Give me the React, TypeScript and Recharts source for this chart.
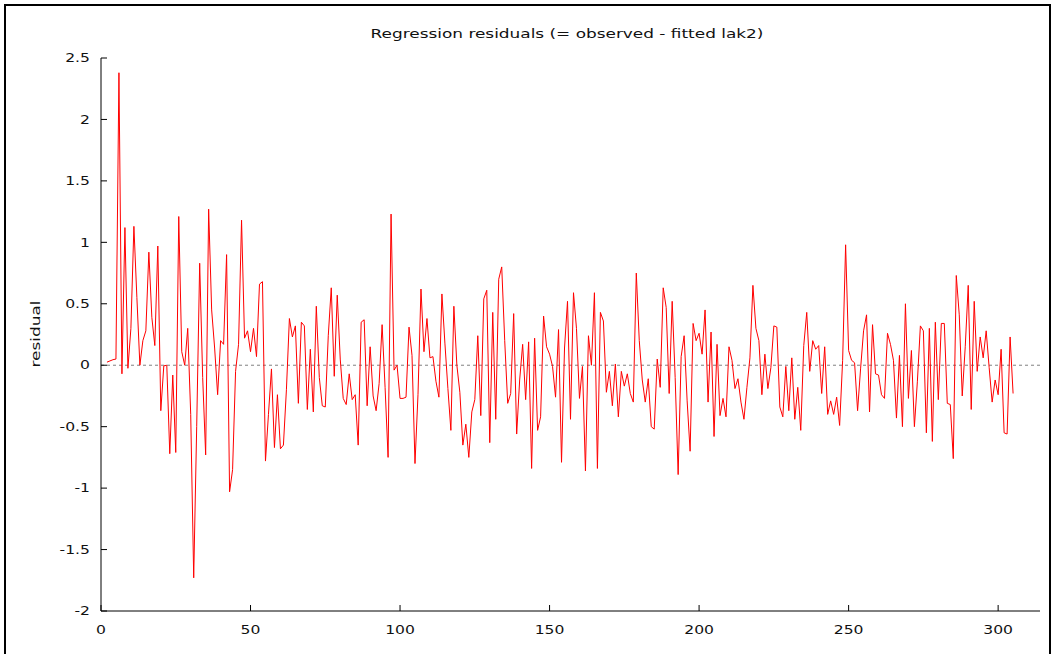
import { LineChart, Line, XAxis, YAxis, ReferenceLine } from 'recharts'

const TITLE = 'Regression residuals (= observed - fitted lak2)'
const Y_LABEL = 'residual'

// first observation that has a residual (lag 2 model)
const FIRST_OBS = 2

// residuals, obs 2..305
const RESIDUALS = [
  0.025, 0.035, 0.045, 0.05, 2.38, -0.07, 1.12, -0.025, 0.3, 1.13,
  0.55, 0.0, 0.2, 0.28, 0.92, 0.39, 0.16, 0.97, -0.37, -0.005,
  0.0, -0.72, -0.08, -0.71, 1.21, 0.11, 0.0, 0.3, -0.4, -1.73,
  -0.5, 0.83, -0.1, -0.73, 1.27, 0.45, 0.14, -0.24, 0.2, 0.17,
  0.9, -1.03, -0.85, -0.05, 0.17, 1.18, 0.22, 0.28, 0.11, 0.3,
  0.07, 0.66, 0.68, -0.78, -0.4, -0.03, -0.67, -0.24, -0.68, -0.65,
  -0.2, 0.38, 0.23, 0.32, -0.31, 0.35, 0.32, -0.36, 0.13, -0.38,
  0.48, -0.1, -0.33, -0.34, 0.24, 0.63, -0.09, 0.57, 0.05, -0.27,
  -0.32, -0.07, -0.28, -0.24, -0.65, 0.35, 0.37, -0.33, 0.15, -0.25,
  -0.37, -0.15, 0.33, -0.18, -0.75, 1.23, -0.04, 0.0, -0.27, -0.27,
  -0.26, 0.31, 0.08, -0.8, -0.24, 0.62, 0.11, 0.38, 0.06, 0.07,
  -0.13, -0.26, 0.58, 0.18, -0.19, -0.53, 0.48, 0.0, -0.22, -0.65,
  -0.48, -0.75, -0.38, -0.28, 0.24, -0.41, 0.54, 0.61, -0.63, 0.43,
  -0.44, 0.7, 0.8, 0.2, -0.31, -0.23, 0.42, -0.56, -0.12, 0.17,
  -0.28, 0.19, -0.84, 0.22, -0.53, -0.42, 0.4, 0.15, 0.09, -0.01,
  -0.26, 0.29, -0.79, 0.14, 0.52, -0.44, 0.59, 0.3, -0.27, -0.01,
  -0.86, 0.24, 0.0, 0.59, -0.84, 0.43, 0.36, -0.22, -0.05, -0.33,
  0.01, -0.42, -0.05, -0.17, -0.07, -0.23, -0.3, 0.75, 0.2, -0.12,
  -0.3, -0.11, -0.5, -0.52, 0.05, -0.18, 0.63, 0.47, -0.23, 0.52,
  -0.1, -0.89, 0.07, 0.24, -0.29, -0.7, 0.34, 0.2, 0.26, 0.09,
  0.45, -0.3, 0.27, -0.58, 0.17, -0.41, -0.27, -0.42, 0.15, 0.04,
  -0.19, -0.11, -0.3, -0.44, -0.18, 0.06, 0.65, 0.3, 0.2, -0.24,
  0.09, -0.19, -0.02, 0.32, 0.31, -0.34, -0.42, -0.01, -0.37, 0.06,
  -0.44, -0.18, -0.53, 0.16, 0.43, -0.05, 0.2, 0.13, 0.16, -0.23,
  0.15, -0.4, -0.29, -0.4, -0.26, -0.49, 0.04, 0.98, 0.12, 0.04,
  0.02, -0.37, -0.03, 0.28, 0.41, -0.38, 0.33, -0.07, -0.08, -0.24,
  -0.27, 0.26, 0.17, 0.04, -0.43, 0.08, -0.5, 0.5, -0.27, 0.12,
  -0.5, -0.13, 0.32, 0.28, -0.55, 0.3, -0.62, 0.35, -0.28, 0.34,
  0.34, -0.31, -0.32, -0.76, 0.73, 0.41, -0.25, 0.15, 0.65, -0.36,
  0.52, -0.05, 0.23, 0.06, 0.28, -0.02, -0.3, -0.12, -0.24, 0.13,
  -0.55, -0.56, 0.23, -0.23,
]

const X_DOMAIN = [0, 314]
const X_TICKS = [0, 50, 100, 150, 200, 250, 300]
const Y_DOMAIN = [-2, 2.5]
const Y_TICKS = [-2, -1.5, -1, -0.5, 0, 0.5, 1, 1.5, 2, 2.5]

const data = RESIDUALS.map((r, i) => ({ obs: FIRST_OBS + i, resid: r }))

const FONT = '"DejaVu Sans", Verdana, sans-serif'
// the reference font is noticeably wide, so text is stretched along its run
const STRETCH = 1.3

function WideTick({ x, y, payload, textAnchor, verticalAnchor }: any) {
  return (
    <g transform={`translate(${x},${y})`}>
      <text
        transform={`scale(${STRETCH},1)`} textAnchor={textAnchor}
        dy={verticalAnchor === 'middle' ? '0.355em' : '0.71em'}
        fontSize={12} fill="#111" fontFamily={FONT}
      >
        {payload.value}
      </text>
    </g>
  )
}

const textStyle = { position: 'absolute' as const, fontFamily: FONT, fontSize: 13, lineHeight: '13px', whiteSpace: 'nowrap' as const, color: '#111' }

export default function App() {
  return (
    <div style={{ position: 'absolute', left: 0, top: 0, width: 1055, height: 654, background: '#fff', overflow: 'hidden' }}>
      <div style={{ position: 'absolute', left: 4, top: 4, width: 1047, height: 700, border: '2px solid #000', boxSizing: 'border-box' }} />
      <LineChart width={1055} height={654} data={data} margin={{ top: 58, right: 15, bottom: 0, left: 41 }}>
        <XAxis
          dataKey="obs" type="number" domain={X_DOMAIN} ticks={X_TICKS} interval={0}
          height={43} tickSize={-6} tickMargin={20} tick={<WideTick />}
          stroke="#000" allowDataOverflow
        />
        <XAxis
          xAxisId="top" orientation="top" type="number" domain={X_DOMAIN} ticks={X_TICKS}
          height={0} tickSize={-6} tick={false} stroke="#000" allowDataOverflow
        />
        <YAxis
          type="number" domain={Y_DOMAIN} ticks={Y_TICKS} interval={0}
          width={60} tickSize={-6} tickMargin={17} tick={<WideTick />} stroke="#000"
        />
        <YAxis
          yAxisId="right" orientation="right" type="number" domain={Y_DOMAIN} ticks={Y_TICKS}
          width={0} tickSize={-6} tick={false} stroke="#000"
        />
        <ReferenceLine y={0} stroke="#808080" strokeDasharray="3 3" />
        <Line dataKey="resid" stroke="#ff0000" strokeWidth={1} dot={false} isAnimationActive={false} />
      </LineChart>
      <div style={{ ...textStyle, left: 567, top: 27, transform: `translateX(-50%) scaleX(${STRETCH})` }}>
        {TITLE}
      </div>
      <div style={{ ...textStyle, left: 35, top: 334, transform: `translate(-50%, -50%) rotate(-90deg) scaleX(${STRETCH})` }}>
        {Y_LABEL}
      </div>
    </div>
  )
}
